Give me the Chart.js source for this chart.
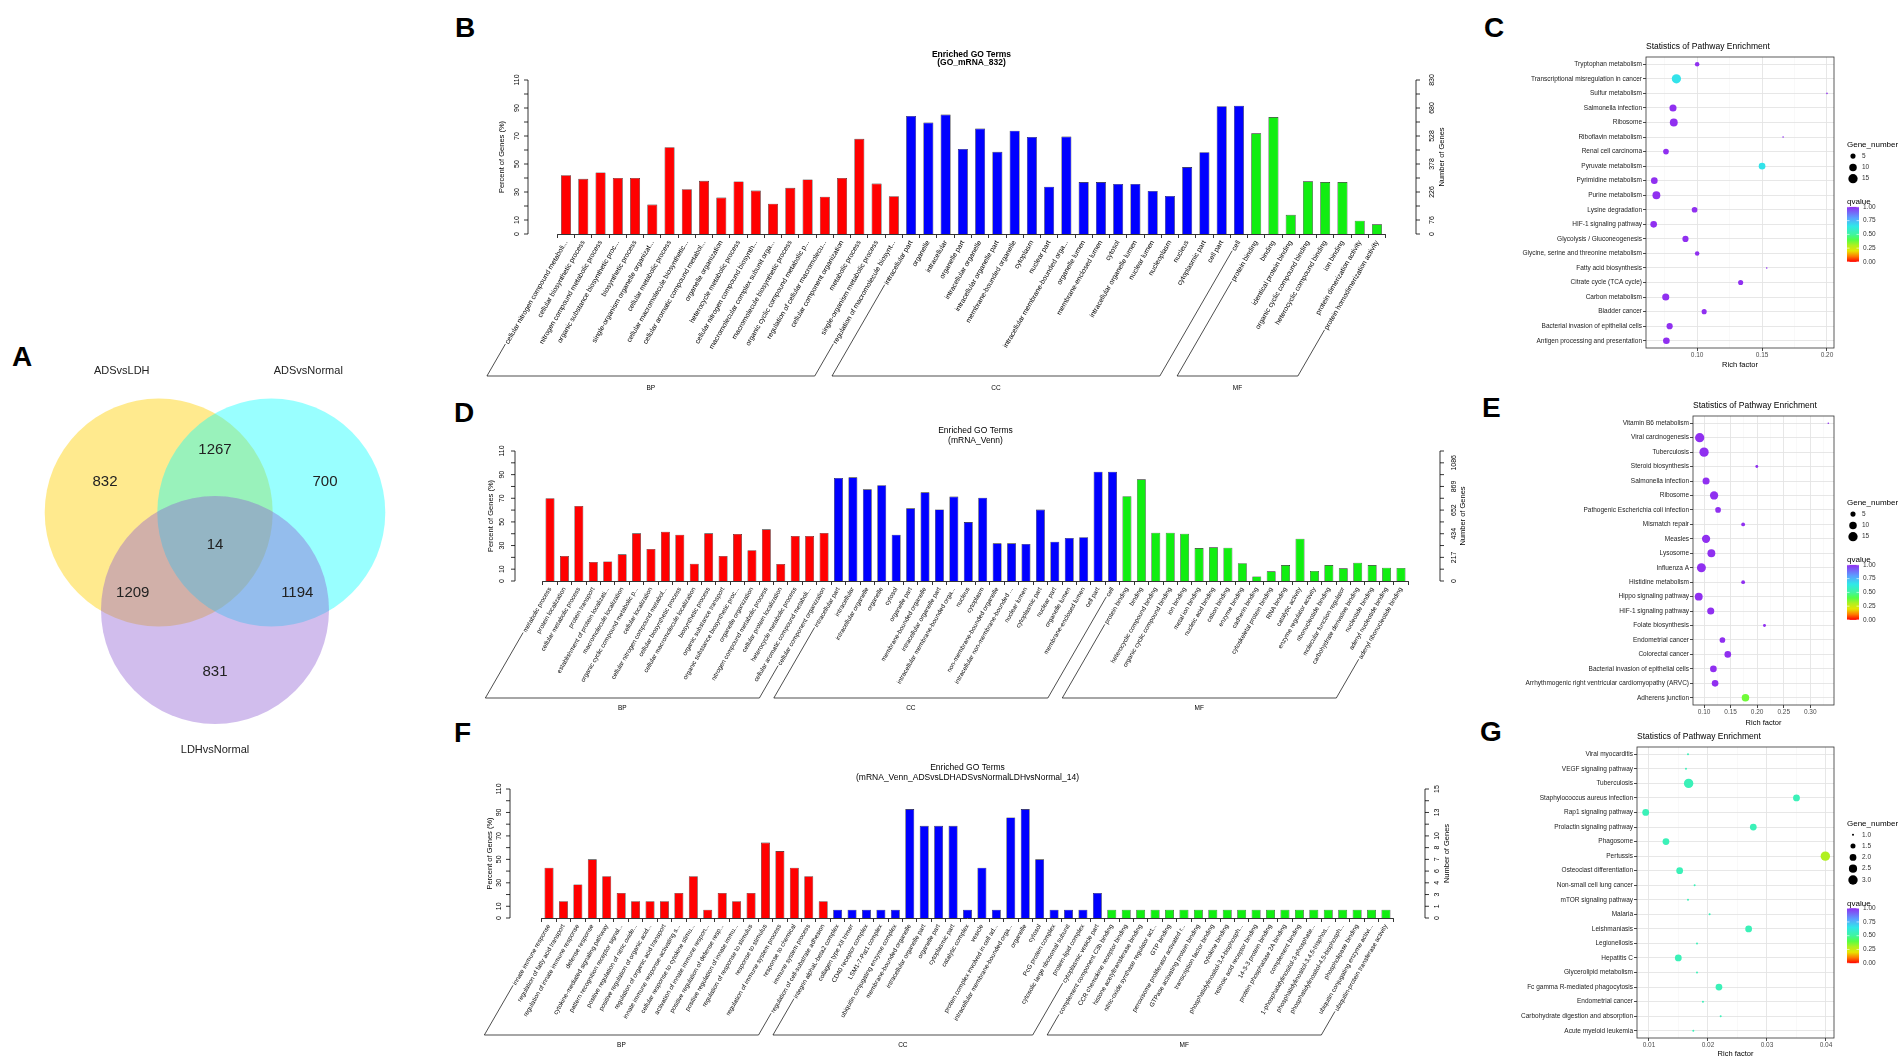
<!DOCTYPE html>
<html>
<head>
<meta charset="utf-8">
<script src="https://cdn.jsdelivr.net/npm/chart.js@4.4.1/dist/chart.umd.min.js"></script>
<style>
  body { margin:0; background:#fff; width:1904px; height:1062px; position:relative; overflow:hidden; font-family:"Liberation Sans", Arial, sans-serif; }
  .box { position:absolute; }
  .box canvas { display:block; }
  .tag { position:absolute; font-weight:bold; font-size:28px; line-height:28px; color:#000; }
</style>
</head>
<body>
<div class="tag" style="left:12px;top:343px">A</div>
<div class="tag" style="left:455px;top:14px">B</div>
<div class="tag" style="left:1484px;top:14px">C</div>
<div class="tag" style="left:454px;top:399px">D</div>
<div class="tag" style="left:1482px;top:394px">E</div>
<div class="tag" style="left:454px;top:719px">F</div>
<div class="tag" style="left:1480px;top:718px">G</div>

<div class="box" style="left:0;top:330px"><canvas id="venn" width="440" height="440"></canvas></div>
<div class="box" style="left:440px;top:30px"><canvas id="goB" width="1040" height="370"></canvas></div>
<div class="box" style="left:440px;top:400px"><canvas id="goD" width="1040" height="320"></canvas></div>
<div class="box" style="left:440px;top:720px"><canvas id="goF" width="1040" height="342"></canvas></div>
<div class="box" style="left:1480px;top:30px"><canvas id="kC" width="424" height="345"></canvas></div>
<div class="box" style="left:1480px;top:395px"><canvas id="kE" width="424" height="332"></canvas></div>
<div class="box" style="left:1480px;top:722px"><canvas id="kG" width="424" height="340"></canvas></div>

<script>
// ---- venn (A)
const vennSets = ['ADSvsLDH', 'ADSvsNormal', 'LDHvsNormal'];
// only1, only2, only3, 1&2, 1&3, 2&3, all
const vennCounts = [832, 700, 831, 1267, 1209, 1194, 14];

// ---- GO bars (B, D, F)
const goGroups = ['BP', 'CC', 'MF'];
const pctTicks = [0, 10, 20, 30, 40, 50, 60, 70, 80, 90, 100, 110];
const pctLabels = ['0', '10', '', '30', '', '50', '', '70', '', '90', '', '110'];

const termsB = [
  'cellular nitrogen compound metaboli...', 'cellular biosynthetic process', 'nitrogen compound metabolic process',
  'organic substance biosynthetic proc...', 'biosynthetic process', 'single-organism organelle organizat...',
  'cellular metabolic process', 'cellular macromolecule biosynthetic...', 'cellular aromatic compound metabol...',
  'organelle organization', 'heterocycle metabolic process', 'cellular nitrogen compound biosynth...',
  'macromolecular complex subunit orga...', 'macromolecule biosynthetic process', 'organic cyclic compound metabolic p...',
  'regulation of cellular macromolecu...', 'cellular component organization', 'metabolic process',
  'single-organism metabolic process', 'regulation of macromolecule biosynt...',
  'intracellular part', 'organelle', 'intracellular', 'organelle part', 'intracellular organelle',
  'intracellular organelle part', 'membrane-bounded organelle', 'cytoplasm', 'nuclear part',
  'intracellular membrane-bounded orga...', 'organelle lumen', 'membrane-enclosed lumen', 'cytosol',
  'intracellular organelle lumen', 'nuclear lumen', 'nucleoplasm', 'nucleus', 'cytoplasmic part', 'cell part', 'cell',
  'protein binding', 'binding', 'identical protein binding', 'organic cyclic compound binding',
  'heterocyclic compound binding', 'ion binding', 'protein dimerization activity', 'protein homodimerization activity'
];
const groupSizesB = [20, 20, 8];
const percentB = [
  42, 39.4, 44, 40, 40, 21, 62, 32, 38, 26, 37.5, 31, 21.6, 33, 39, 26.6, 40, 68, 36, 27,
  84.3, 79.6, 85.3, 60.8, 75.3, 58.7, 73.8, 69.3, 33.8, 69.6, 37.1, 37.1, 35.7, 35.7, 30.8, 27.2, 47.8, 58.4, 91.3, 91.6,
  71.9, 83.5, 13.7, 37.6, 37.1, 37.1, 9.5, 6.9
];
const rightLabelsB = ['0', '76', '', '226', '', '378', '', '528', '', '680', '', '830'];

const termsD = [
  'metabolic process', 'protein localization', 'cellular metabolic process', 'protein transport',
  'establishment of protein localizati...', 'macromolecule localization', 'organic cyclic compound metabolic p...',
  'cellular localization', 'cellular nitrogen compound metabol...', 'cellular biosynthetic process',
  'cellular macromolecule localization', 'biosynthetic process', 'organic substance transport',
  'organic substance biosynthetic proc...', 'organelle organization', 'nitrogen compound metabolic process',
  'cellular protein localization', 'heterocycle metabolic process', 'cellular aromatic compound metaboli...',
  'cellular component organization',
  'intracellular part', 'intracellular', 'intracellular organelle', 'organelle', 'cytosol', 'organelle part',
  'membrane-bounded organelle', 'intracellular organelle part', 'intracellular membrane-bounded orga...',
  'nucleus', 'cytoplasm', 'non-membrane-bounded organelle', 'intracellular non-membrane-bounded ...',
  'nuclear lumen', 'cytoplasmic part', 'nuclear part', 'organelle lumen', 'membrane-enclosed lumen', 'cell part', 'cell',
  'protein binding', 'binding', 'heterocyclic compound binding', 'organic cyclic compound binding', 'ion binding',
  'metal ion binding', 'nucleic acid binding', 'cation binding', 'enzyme binding', 'cadherin binding',
  'cytoskeletal protein binding', 'RNA binding', 'catalytic activity', 'enzyme regulator activity',
  'ribonucleotide binding', 'molecular function regulator', 'carbohydrate derivative binding',
  'nucleotide binding', 'adenyl nucleotide binding', 'adenyl ribonucleotide binding'
];
const groupSizesD = [20, 20, 20];
const percentD = [
  70, 21.2, 63.5, 16.1, 16.6, 22.6, 40.3, 27.1, 41.7, 39.2, 14.7, 40.3, 21.2, 39.8, 26, 43.7, 14.4, 38.1, 38.1, 40.6,
  87.2, 87.7, 77.6, 81, 39.2, 61.5, 75, 60.6, 71.4, 49.9, 70.5, 31.9, 31.9, 31.3, 60.4, 33.3, 36.4, 37, 92.5, 92.5,
  71.7, 86, 40.9, 40.9, 40, 27.9, 28.5, 28.2, 15, 3.9, 8.2, 13.5, 35.8, 8.5, 13.5, 10.7, 15.5, 13.5, 11.3, 11
];
const rightLabelsD = ['0', '', '217', '', '434', '', '652', '', '869', '', '1086', ''];

const termsF = [
  'innate immune response', 'regulation of fatty acid transport', 'regulation of innate immune response',
  'defense response', 'cytokine-mediated signaling pathway', 'pattern recognition receptor signal...',
  'positive regulation of nitric oxide...', 'positive regulation of organic acid...', 'regulation of organic acid transport',
  'innate immune response-activating s...', 'cellular response to cytokine stimu...', 'activation of innate immune respon...',
  'positive regulation of defense resp...', 'positive regulation of innate immu...', 'regulation of response to stimulus',
  'response to stimulus', 'regulation of immune system process', 'response to chemical', 'immune system process',
  'regulation of cell-substrate adhesion',
  'integrin alphaL-beta2 complex', 'collagen type XII trimer', 'CD40 receptor complex', 'LSM1-7-Pat1 complex',
  'ubiquitin conjugating enzyme complex', 'membrane-bounded organelle', 'intracellular organelle part',
  'organelle part', 'cytoplasmic part', 'catalytic complex', 'vesicle', 'protein complex involved in cell ad...',
  'intracellular membrane-bounded orga...', 'organelle', 'cytosol', 'PcG protein complex',
  'cytosolic large ribosomal subunit', 'protein-lipid complex', 'cytoplasmic vesicle part',
  'complement component C3b binding', 'CCR chemokine receptor binding', 'histone acetyltransferase binding',
  'nitric-oxide synthase regulator act...', 'GTP binding', 'peroxisome proliferator activated r...',
  'GTPase activating protein binding', 'transcription factor binding', 'cytokine binding',
  'phosphatidylinositol-3,4-bisphosph...', 'retinoic acid receptor binding', '14-3-3 protein binding',
  'protein phosphatase 2A binding', 'complement binding', '1-phosphatidylinositol-3-phosphate...',
  'phosphatidylinositol-3,4,5-trisphos...', 'phosphatidylinositol-4,5-bisphosph...', 'phospholipase binding',
  'ubiquitin conjugating enzyme activi...', 'ubiquitin-protein transferase activity'
];
const groupSizesF = [20, 19, 20];
const percentF = [
  42.9, 14.3, 28.6, 50, 35.7, 21.4, 14.3, 14.3, 14.3, 21.4, 35.7, 7.1, 21.4, 14.3, 21.4, 64.3, 57.1, 42.9, 35.7, 14.3,
  7.1, 7.1, 7.1, 7.1, 7.1, 92.9, 78.6, 78.6, 78.6, 7.1, 42.9, 7.1, 85.7, 92.9, 50, 7.1, 7.1, 7.1, 21.4,
  7.1, 7.1, 7.1, 7.1, 7.1, 7.1, 7.1, 7.1, 7.1, 7.1, 7.1, 7.1, 7.1, 7.1, 7.1, 7.1, 7.1, 7.1, 7.1, 7.1
];
const rightLabelsF = ['0', '1', '3', '4', '6', '7', '8', '10', '', '13', '', '15'];

// ---- KEGG bubbles (C, E, G)
const pathwaysC = [
  'Tryptophan metabolism', 'Transcriptional misregulation in cancer', 'Sulfur metabolism', 'Salmonella infection',
  'Ribosome', 'Riboflavin metabolism', 'Renal cell carcinoma', 'Pyruvate metabolism', 'Pyrimidine metabolism',
  'Purine metabolism', 'Lysine degradation', 'HIF-1 signaling pathway', 'Glycolysis / Gluconeogenesis',
  'Glycine, serine and threonine metabolism', 'Fatty acid biosynthesis', 'Citrate cycle (TCA cycle)',
  'Carbon metabolism', 'Bladder cancer', 'Bacterial invasion of epithelial cells', 'Antigen processing and presentation'
];
const richC = [0.100, 0.084, 0.200, 0.0814, 0.082, 0.1662, 0.076, 0.150, 0.067, 0.0686, 0.098, 0.0665, 0.091, 0.100, 0.1536, 0.1335, 0.0758, 0.1054, 0.0788, 0.0763];
const genesC = [4, 15, 1, 9, 11, 1, 6, 8, 8, 11, 6, 8, 7, 4, 1, 5, 9, 5, 7, 8];
const qvalueC = [1, 0.66, 1, 1, 1, 1, 1, 0.66, 1, 1, 1, 1, 1, 1, 1, 1, 1, 1, 1, 1];

const pathwaysE = [
  'Vitamin B6 metabolism', 'Viral carcinogenesis', 'Tuberculosis', 'Steroid biosynthesis', 'Salmonella infection',
  'Ribosome', 'Pathogenic Escherichia coli infection', 'Mismatch repair', 'Measles', 'Lysosome', 'Influenza A',
  'Histidine metabolism', 'Hippo signaling pathway', 'HIF-1 signaling pathway', 'Folate biosynthesis',
  'Endometrial cancer', 'Colorectal cancer', 'Bacterial invasion of epithelial cells',
  'Arrhythmogenic right ventricular cardiomyopathy (ARVC)', 'Adherens junction'
];
const richE = [0.334, 0.0918, 0.100, 0.1994, 0.1038, 0.1189, 0.1264, 0.1736, 0.1038, 0.1138, 0.095, 0.1736, 0.090, 0.1126, 0.2138, 0.1346, 0.1447, 0.1176, 0.1208, 0.178];
const genesE = [1, 15, 15, 2, 9, 12, 6, 3, 12, 11, 14, 3, 11, 9, 2, 6, 8, 8, 8, 10];
const qvalueE = [1, 1, 1, 1, 1, 1, 1, 1, 1, 1, 1, 1, 1, 1, 1, 1, 1, 1, 1, 0.37];

const pathwaysG = [
  'Viral myocarditis', 'VEGF signaling pathway', 'Tuberculosis', 'Staphylococcus aureus infection',
  'Rap1 signaling pathway', 'Prolactin signaling pathway', 'Phagosome', 'Pertussis', 'Osteoclast differentiation',
  'Non-small cell lung cancer', 'mTOR signaling pathway', 'Malaria', 'Leishmaniasis', 'Legionellosis', 'Hepatitis C',
  'Glycerolipid metabolism', 'Fc gamma R-mediated phagocytosis', 'Endometrial cancer',
  'Carbohydrate digestion and absorption', 'Acute myeloid leukemia'
];
const richG = [0.01661, 0.01627, 0.01672, 0.0350, 0.00944, 0.02768, 0.01288, 0.03989, 0.0152, 0.01774, 0.01661, 0.02028, 0.02689, 0.01814, 0.01497, 0.01814, 0.02186, 0.01915, 0.02215, 0.01751];
const genesG = [1, 1, 3, 2, 2, 2, 2, 3, 2, 1, 1, 1, 2, 1, 2, 1, 2, 1, 1, 1];
const qvalueG = [0.55, 0.55, 0.55, 0.55, 0.55, 0.55, 0.55, 0.3, 0.55, 0.55, 0.55, 0.55, 0.55, 0.55, 0.55, 0.55, 0.55, 0.55, 0.55, 0.55];

const xTicksC = [0.075, 0.10, 0.125, 0.15, 0.175, 0.20];
const xTicksE = [0.10, 0.125, 0.15, 0.175, 0.20, 0.225, 0.25, 0.275, 0.30, 0.325];
const xTicksG = [0.01, 0.015, 0.02, 0.025, 0.03, 0.035, 0.04];
const sizeKeysCE = [5, 10, 15];
const sizeKeysG = [1.0, 1.5, 2.0, 2.5, 3.0];
const qvalueKeys = [1, 0.75, 0.5, 0.25, 0];

// ---------------------------------------------------------------
const FONT = '"Liberation Sans", Arial, Helvetica, sans-serif';
Chart.defaults.font.family = FONT;
Chart.defaults.animation = false;
Chart.defaults.responsive = false;
Chart.defaults.layout.autoPadding = false;
Chart.defaults.plugins.legend.display = false;
Chart.defaults.plugins.tooltip.enabled = false;

const groupColors = ['#ff0000', '#0000ff', '#11ee11'];

// rainbow-ish scale used for qvalue
const qStops = [[0, '#ff0000'], [0.1, '#ff7a00'], [0.2, '#e6e600'], [0.3, '#b0f020'], [0.4, '#55ff44'],
                [0.5, '#40f5a0'], [0.65, '#30e8e8'], [0.8, '#5aa0ff'], [1, '#9030f0']];
function hex(h) { return [1, 3, 5].map(i => parseInt(h.substr(i, 2), 16)); }
function qColor(q) {
  for (let i = 1; i < qStops.length; i++) {
    if (q <= qStops[i][0]) {
      const [q0, c0] = qStops[i - 1], [q1, c1] = qStops[i];
      const t = (q - q0) / (q1 - q0), a = hex(c0), b = hex(c1);
      return 'rgb(' + a.map((v, k) => Math.round(v + (b[k] - v) * t)).join(',') + ')';
    }
  }
  return qStops[qStops.length - 1][1];
}
// ggplot-like area scaling of point size
function bubbleR(n, lo, hi, rmin, rmax) {
  return Math.sqrt(rmin * rmin + (n - lo) / (hi - lo) * (rmax * rmax - rmin * rmin));
}
function vtext(ctx, s, x, y) {
  ctx.save(); ctx.translate(x, y); ctx.rotate(-Math.PI / 2); ctx.fillText(s, 0, 0); ctx.restore();
}

// ---------------- A: venn
const vR = 114, vD = 65, vO = [215, 215];
const vDirs = [[-0.866, -0.5], [0.866, -0.5], [0, 1]];
const vFill = ['rgba(255,213,30,0.5)', 'rgba(0,255,255,0.4)', 'rgba(140,90,210,0.4)'];
const vennText = {
  id: 'vennText',
  afterDatasetsDraw(chart) {
    const { ctx, scales: { x, y } } = chart;
    const px = (p) => [x.getPixelForValue(p[0]), y.getPixelForValue(p[1])];
    const at = (u, k) => [vO[0] + u[0] * k, vO[1] + u[1] * k];
    const spots = [at(vDirs[0], 127), at(vDirs[1], 127), at(vDirs[2], 127),
                   at(vDirs[2], -95), at(vDirs[1], -95), at(vDirs[0], -95), vO];
    ctx.save();
    ctx.fillStyle = '#222'; ctx.textAlign = 'center'; ctx.textBaseline = 'middle';
    ctx.font = `15px ${FONT}`;
    vennCounts.forEach((c, i) => { const p = px(spots[i]); ctx.fillText(String(c), p[0], p[1]); });
    ctx.font = `11px ${FONT}`;
    const names = [[-37, -142], [37, -142], [0, 140]];
    vennSets.forEach((s, i) => {
      const c = at(vDirs[i], vD);
      const p = px([c[0] + names[i][0], c[1] + names[i][1]]);
      ctx.fillText(s, p[0], p[1]);
    });
    ctx.restore();
  }
};
new Chart(document.getElementById('venn'), {
  type: 'bubble',
  data: {
    // higher order is painted first, so the last set ends up on top
    datasets: vennSets.map((s, i) => ({
      label: s,
      order: 3 - i,
      data: [{ x: vO[0] + vDirs[i][0] * vD, y: vO[1] + vDirs[i][1] * vD, r: vR }],
      backgroundColor: vFill[i], borderWidth: 0, clip: false
    }))
  },
  options: {
    layout: { padding: 0, autoPadding: false },
    scales: {
      x: { type: 'linear', display: false, min: 0, max: 440 },
      y: { type: 'linear', display: false, min: 0, max: 440, reverse: true }
    }
  },
  plugins: [vennText]
});

// ---------------- B, D, F: GO bar plots
function goAxes(cfg) {
  return {
    id: 'goAxes',
    afterDraw(chart) {
      const { ctx, chartArea: a, scales: { x: xs, y: ys } } = chart;
      const xl = a.left + cfg.axL, xr = a.right + cfg.axR;
      const yb = ys.getPixelForValue(0), yt = ys.getPixelForValue(110);
      ctx.save();
      ctx.strokeStyle = '#000'; ctx.lineWidth = 0.8;
      ctx.beginPath();
      ctx.moveTo(xl, yb); ctx.lineTo(xl, yt);
      ctx.moveTo(xr, yb); ctx.lineTo(xr, yt);
      pctTicks.forEach(v => {
        const p = ys.getPixelForValue(v);
        ctx.moveTo(xl, p); ctx.lineTo(xl - 4, p);
        ctx.moveTo(xr, p); ctx.lineTo(xr + 4, p);
      });
      ctx.stroke();
      ctx.fillStyle = '#000'; ctx.textAlign = 'center'; ctx.textBaseline = 'middle';
      ctx.font = `7px ${FONT}`;
      pctTicks.forEach((v, i) => {
        const p = ys.getPixelForValue(v);
        if (pctLabels[i]) vtext(ctx, pctLabels[i], xl + cfg.labL, p);
        if (cfg.right[i]) vtext(ctx, cfg.right[i], xr + cfg.labR, p);
      });
      ctx.font = `7.5px ${FONT}`;
      vtext(ctx, 'Percent of Genes (%)', xl + cfg.titL, (yb + yt) / 2);
      vtext(ctx, 'Number of Genes', xr + cfg.titR, (yb + yt) / 2);

      // title
      ctx.font = `${cfg.bold ? 'bold ' : ''}8.5px ${FONT}`;
      const cx = (a.left + a.right) / 2;
      ctx.fillText(cfg.title[0], cx, a.top + cfg.t1);
      ctx.fillText(cfg.title[1], cx, a.top + cfg.t2);

      // group brackets under the rotated labels
      ctx.font = `${cfg.lab}px ${FONT}`;
      const ang = Math.PI / 3, co = Math.cos(ang), si = Math.sin(ang), y0 = xs.top + 5;
      const foot = i => {
        const w = ctx.measureText(cfg.terms[i]).width + 3;
        const sx = xs.getPixelForTick(i) - w * co, sy = y0 + w * si;
        return [sx, sy, sx - (cfg.brk - sy) * co / si];
      };
      ctx.lineWidth = 0.7;
      ctx.beginPath();
      let start = 0;
      const mids = [];
      cfg.groups.forEach(n => {
        const f0 = foot(start), f1 = foot(start + n - 1);
        ctx.moveTo(f0[0], f0[1]); ctx.lineTo(f0[2], cfg.brk);
        ctx.lineTo(f1[2], cfg.brk); ctx.lineTo(f1[0], f1[1]);
        mids.push((f0[2] + f1[2]) / 2);
        start += n;
      });
      ctx.stroke();
      ctx.font = `6.5px ${FONT}`;
      mids.forEach((m, g) => ctx.fillText(goGroups[g], m, cfg.brk + cfg.gl));
      ctx.restore();
    }
  };
}

function goBar(id, cfg) {
  const colors = [];
  cfg.groups.forEach((n, g) => { for (let i = 0; i < n; i++) colors.push(groupColors[g]); });
  return new Chart(document.getElementById(id), {
    type: 'bar',
    data: {
      labels: cfg.terms,
      datasets: [{
        data: cfg.values, backgroundColor: colors, borderColor: '#1a1a1a', borderWidth: 0.6,
        barPercentage: cfg.barPct, categoryPercentage: 1
      }]
    },
    options: {
      layout: { padding: cfg.pad },
      scales: {
        x: {
          ticks: { autoSkip: false, minRotation: 60, maxRotation: 60, font: { size: cfg.lab }, color: '#000', padding: 1 },
          grid: { offset: true, drawOnChartArea: false, tickLength: 4, color: '#000', lineWidth: 0.8 },
          border: { display: true, color: '#000', width: 0.8 },
          afterFit: s => { s.height = cfg.xh; }
        },
        y: { display: false, min: 0, max: 110 }
      }
    },
    plugins: [goAxes(cfg)]
  });
}

goBar('goB', {
  terms: termsB, values: percentB, groups: groupSizesB, right: rightLabelsB,
  title: ['Enriched GO Terms', '(GO_mRNA_832)'], bold: true, t1: -25, t2: -17,
  pad: { left: 117.4, right: 94.4, top: 50, bottom: 0 }, xh: 166, barPct: 0.58, lab: 7,
  axL: -29.4, axR: 30.4, labL: -11, labR: 16, titL: -26, titR: 26, brk: 346, gl: 12
});
goBar('goD', {
  terms: termsD, values: percentD, groups: groupSizesD, right: rightLabelsD,
  title: ['Enriched GO Terms', '(mRNA_Venn)'], bold: false, t1: -20, t2: -10,
  pad: { left: 102.8, right: 71.8, top: 51, bottom: 0 }, xh: 139, barPct: 0.62, lab: 6.3,
  axL: -27.8, axR: 31.8, labL: -13, labR: 14, titL: -24, titR: 23, brk: 298, gl: 10
});
goBar('goF', {
  terms: termsF, values: percentF, groups: groupSizesF, right: rightLabelsF,
  title: ['Enriched GO Terms', '(mRNA_Venn_ADSvsLDHADSvsNormalLDHvsNormal_14)'], bold: false, t1: -21, t2: -11,
  pad: { left: 101.8, right: 86.8, top: 69, bottom: 0 }, xh: 144, barPct: 0.62, lab: 6.3,
  axL: -31.8, axR: 31.8, labL: -11, labR: 12, titL: -20, titR: 22, brk: 315, gl: 10
});

// ---------------- C, E, G: pathway enrichment bubbles
function ggPanel(cfg) {
  return {
    id: 'ggPanel',
    afterDraw(chart) {
      const { ctx, chartArea: a } = chart;
      ctx.save();
      ctx.strokeStyle = '#333'; ctx.lineWidth = 0.8;
      ctx.strokeRect(a.left, a.top, a.right - a.left, a.bottom - a.top);
      ctx.fillStyle = '#000'; ctx.textAlign = 'left'; ctx.textBaseline = 'middle';
      ctx.font = `8.5px ${FONT}`;
      ctx.fillText('Statistics of Pathway Enrichment', a.left, a.top - 10);

      // legend, vertically centred on the panel
      const L = a.right + 13, n = cfg.keys.length;
      const H = 5 + 11 + (n - 1) * 11.3 + 23.5 + 4.7 + 55 + 3;
      const t = (a.top + a.bottom) / 2 - H / 2 + 5;
      ctx.font = `8px ${FONT}`;
      ctx.fillText('Gene_number', L, t);
      cfg.keys.forEach((k, i) => {
        const cy = t + 11 + i * 11.3;
        ctx.beginPath(); ctx.fillStyle = '#000';
        ctx.arc(L + 6, cy, bubbleR(k, cfg.lo, cfg.hi, cfg.rmin, cfg.rmax), 0, Math.PI * 2); ctx.fill();
        ctx.font = `6.5px ${FONT}`; ctx.fillStyle = '#333';
        ctx.fillText(cfg.keyFmt(k), L + 15, cy);
      });
      const qy = t + 11 + (n - 1) * 11.3 + 23.5;
      ctx.fillStyle = '#000'; ctx.font = `8px ${FONT}`;
      ctx.fillText('qvalue', L, qy);
      const bt = qy + 4.7, bh = 55, bw = 12;
      const g = ctx.createLinearGradient(0, bt + bh, 0, bt);
      qStops.forEach(s => g.addColorStop(s[0], s[1]));
      ctx.fillStyle = g; ctx.fillRect(L, bt, bw, bh);
      ctx.strokeStyle = '#fff'; ctx.lineWidth = 0.6;
      ctx.font = `6.5px ${FONT}`;
      qvalueKeys.forEach(q => {
        const yy = bt + bh - q * bh;
        ctx.beginPath();
        ctx.moveTo(L, yy); ctx.lineTo(L + 2.5, yy);
        ctx.moveTo(L + bw, yy); ctx.lineTo(L + bw - 2.5, yy);
        ctx.stroke();
        ctx.fillStyle = '#333'; ctx.fillText(q.toFixed(2), L + 16, yy);
      });
      ctx.restore();
    }
  };
}

function pathwayChart(id, cfg) {
  const pts = cfg.paths.map((p, i) => ({ x: cfg.rich[i], y: p, r: bubbleR(cfg.genes[i], cfg.lo, cfg.hi, cfg.rmin, cfg.rmax) }));
  const isMajor = v => cfg.major.some(m => Math.abs(m - v) < 1e-9);
  return new Chart(document.getElementById(id), {
    type: 'bubble',
    data: { datasets: [{ data: pts, backgroundColor: cfg.q.map(qColor), borderWidth: 0 }] },
    options: {
      layout: { padding: { left: 0, top: cfg.top, right: 70, bottom: 0 }, autoPadding: false },
      scales: {
        x: {
          type: 'linear', min: cfg.xmin, max: cfg.xmax,
          afterBuildTicks: s => { s.ticks = cfg.xticks.map(v => ({ value: v })); },
          afterFit: s => { s.height = cfg.xh; },
          ticks: { font: { size: 6.5 }, color: '#4d4d4d', padding: 0, autoSkip: false, maxRotation: 0,
                   callback: v => isMajor(v) ? v.toFixed(2) : '' },
          grid: {
            color: c => isMajor(c.tick.value) ? '#e4e4e4' : '#f2f2f2',
            lineWidth: c => isMajor(c.tick.value) ? 0.9 : 0.5,
            tickColor: c => isMajor(c.tick.value) ? '#333' : 'rgba(0,0,0,0)',
            tickLength: 3
          },
          border: { display: false },
          title: { display: true, text: 'Rich factor', font: { size: 7.5 }, color: '#000', padding: { top: 0, bottom: cfg.tb } }
        },
        y: {
          type: 'category', labels: cfg.paths, offset: true,
          afterFit: s => { s.width = cfg.yw; },
          ticks: { font: { size: 6.5 }, color: '#222', padding: 1, autoSkip: false },
          grid: { color: '#e4e4e4', lineWidth: 0.9, tickColor: '#333', tickLength: 3 },
          border: { display: false }
        }
      }
    },
    plugins: [ggPanel(cfg)]
  });
}

pathwayChart('kC', {
  paths: pathwaysC, rich: richC, genes: genesC, q: qvalueC, lo: 1, hi: 16, rmin: 0.8, rmax: 4.8,
  keys: sizeKeysCE, keyFmt: k => String(k),
  xmin: 0.0606, xmax: 0.2054, xticks: xTicksC, major: [0.10, 0.15, 0.20],
  top: 27, xh: 27, yw: 166, tb: 6
});
pathwayChart('kE', {
  paths: pathwaysE, rich: richE, genes: genesE, q: qvalueE, lo: 1, hi: 16, rmin: 0.8, rmax: 4.8,
  keys: sizeKeysCE, keyFmt: k => String(k),
  xmin: 0.0792, xmax: 0.3447, xticks: xTicksE, major: [0.10, 0.15, 0.20, 0.25, 0.30],
  top: 21, xh: 22, yw: 213, tb: 0
});
pathwayChart('kG', {
  paths: pathwaysG, rich: richG, genes: genesG, q: qvalueG, lo: 1, hi: 3, rmin: 1, rmax: 4.7,
  keys: sizeKeysG, keyFmt: k => k.toFixed(1),
  xmin: 0.00797, xmax: 0.04136, xticks: xTicksG, major: [0.01, 0.02, 0.03, 0.04],
  top: 25, xh: 24, yw: 157, tb: 4
});
</script>
</body>
</html>
